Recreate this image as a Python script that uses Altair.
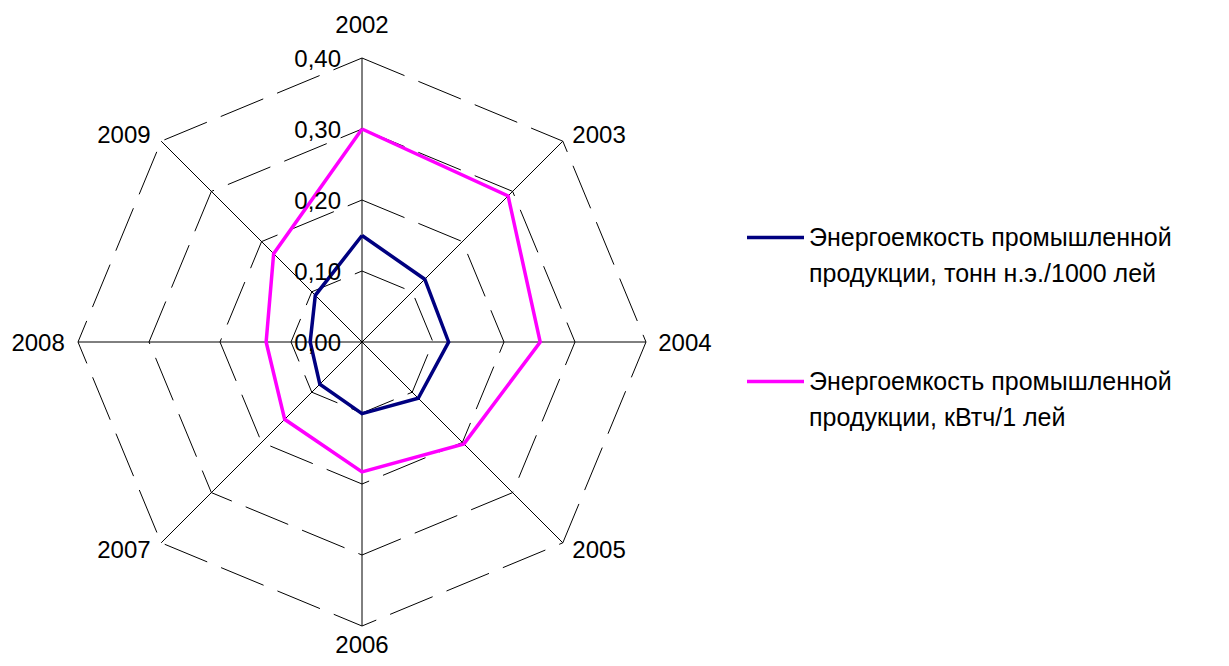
import altair as alt
import pandas as pd

# ---------------- data ----------------
years = ["2002", "2003", "2004", "2005", "2006", "2007", "2008", "2009"]
series_names = [
    "Энергоемкость промышленной продукции, тонн н.э./1000 лей",
    "Энергоемкость промышленной продукции, кВтч/1 лей",
]
legend_line1 = ["Энергоемкость промышленной", "Энергоемкость промышленной"]
legend_line2 = ["продукции, тонн н.э./1000 лей", "продукции, кВтч/1 лей"]
tonnes = [0.150, 0.125, 0.122, 0.112, 0.101, 0.084, 0.073, 0.093]
kwh = [0.300, 0.291, 0.251, 0.203, 0.183, 0.154, 0.135, 0.176]
tick_values = [0.0, 0.1, 0.2, 0.3, 0.4]
tick_labels = ["0,00", "0,10", "0,20", "0,30", "0,40"]
colors = ["#000080", "#FF00FF"]

# ---------------- tables ----------------
n = len(years)
rmax = tick_values[-1]

rows = []
for s, vals in zip(series_names, [tonnes, kwh]):
    for k in range(n + 1):
        i = k % n
        rows.append({"series": s, "year": years[i], "idx": i, "order": k, "value": vals[i]})
series_df = pd.DataFrame(rows)

grid_rows = []
for lv in tick_values[1:]:
    for k in range(n + 1):
        grid_rows.append({"level": lv, "idx": k % n, "order": k})
grid_df = pd.DataFrame(grid_rows)

year_df = pd.DataFrame({"year": years, "idx": list(range(n)), "r": [rmax] * n})
tick_df = pd.DataFrame({"value": tick_values, "label": tick_labels})

# ---------------- layout ----------------
W, H = 1205, 650
CX, CY = 354, 334          # centre of the radar in plot pixels
PPU = 710                  # pixels per data unit
xs = alt.Scale(domain=[-CX / PPU, (W - CX) / PPU], nice=False, zero=False)
ys = alt.Scale(domain=[-(H - CY) / PPU, CY / PPU], nice=False, zero=False)
FONT = "Liberation Sans"
FS = 24


def X(f):
    return alt.X(f, type="quantitative", scale=xs, axis=None)


def Y(f):
    return alt.Y(f, type="quantitative", scale=ys, axis=None)


ANG = f"datum.idx * 2 * PI / {n}"

grid = (
    alt.Chart(grid_df)
    .transform_calculate(ang=ANG)
    .transform_calculate(px="datum.level * sin(datum.ang)", py="datum.level * cos(datum.ang)")
    .mark_line(color="black", strokeWidth=1, strokeDash=[46, 15])
    .encode(x=X("px"), y=Y("py"), order="order:Q", detail="level:N")
)

spokes = (
    alt.Chart(year_df)
    .transform_calculate(ang=ANG, zero="0")
    .transform_calculate(ex="datum.r * sin(datum.ang)", ey="datum.r * cos(datum.ang)")
    .mark_rule(color="black", strokeWidth=1)
    .encode(x=X("zero"), y=Y("zero"), x2=alt.X2("ex:Q"), y2=alt.Y2("ey:Q"))
)

label_expr = (
    f"datum.label == '{series_names[0]}' ? ['{legend_line1[0]}', '{legend_line2[0]}']"
    f" : ['{legend_line1[1]}', '{legend_line2[1]}']"
)

lines = (
    alt.Chart(series_df)
    .transform_calculate(ang=ANG)
    .transform_calculate(px="datum.value * sin(datum.ang)", py="datum.value * cos(datum.ang)")
    .mark_line(strokeWidth=3.5, strokeJoin="miter")
    .encode(
        x=X("px"),
        y=Y("py"),
        order="order:Q",
        color=alt.Color(
            "series:N",
            scale=alt.Scale(domain=series_names, range=colors),
            legend=alt.Legend(
                title=None,
                orient="none",
                legendX=737,
                legendY=199,
                symbolType="stroke",
                symbolSize=3249,
                symbolStrokeWidth=3.5,
                labelFont=FONT,
                labelFontSize=25,
                labelColor="black",
                labelLimit=1000,
                labelOffset=3,
                labelBaseline="middle",
                labelExpr=label_expr,
                rowPadding=64,
            ),
        ),
    )
)

lbl = (
    alt.Chart(year_df)
    .transform_calculate(ang=ANG)
    .transform_calculate(
        lx="(datum.r + 0.013) * sin(datum.ang)",
        ly="(datum.r + 0.013) * cos(datum.ang)",
        s="sin(datum.ang)",
        c="cos(datum.ang)",
    )
)
lbl_top = lbl.transform_filter("abs(datum.s) < 0.01 && datum.c > 0").mark_text(
    align="center", baseline="alphabetic", dy=-16, font=FONT, fontSize=FS, color="black"
).encode(x=X("lx"), y=Y("ly"), text="year:N")
lbl_bot = lbl.transform_filter("abs(datum.s) < 0.01 && datum.c < 0").mark_text(
    align="center", baseline="alphabetic", dy=18, font=FONT, fontSize=FS, color="black"
).encode(x=X("lx"), y=Y("ly"), text="year:N")
lbl_right = lbl.transform_filter("datum.s > 0.01").mark_text(
    align="left", baseline="middle", dx=3, dy=1.5, font=FONT, fontSize=FS, color="black"
).encode(x=X("lx"), y=Y("ly"), text="year:N")
lbl_left = lbl.transform_filter("datum.s < -0.01").mark_text(
    align="right", baseline="middle", dx=-4, dy=1.5, font=FONT, fontSize=FS, color="black"
).encode(x=X("lx"), y=Y("ly"), text="year:N")

ticks = (
    alt.Chart(tick_df)
    .transform_calculate(zero="0")
    .mark_text(align="right", baseline="middle", dx=-21, dy=1.5, font=FONT, fontSize=FS, color="black")
    .encode(x=X("zero"), y=Y("value"), text="label:N")
)

chart = (
    alt.layer(grid, spokes, lines, lbl_top, lbl_bot, lbl_right, lbl_left, ticks)
    .properties(width=W, height=H, padding=0, autosize="none")
    .configure(font=FONT, style={"guide-label": {"lineHeight": 36}})
    .configure_view(stroke=None)
)

chart.save("out.html", embed_options={"renderer": "svg", "actions": False})
